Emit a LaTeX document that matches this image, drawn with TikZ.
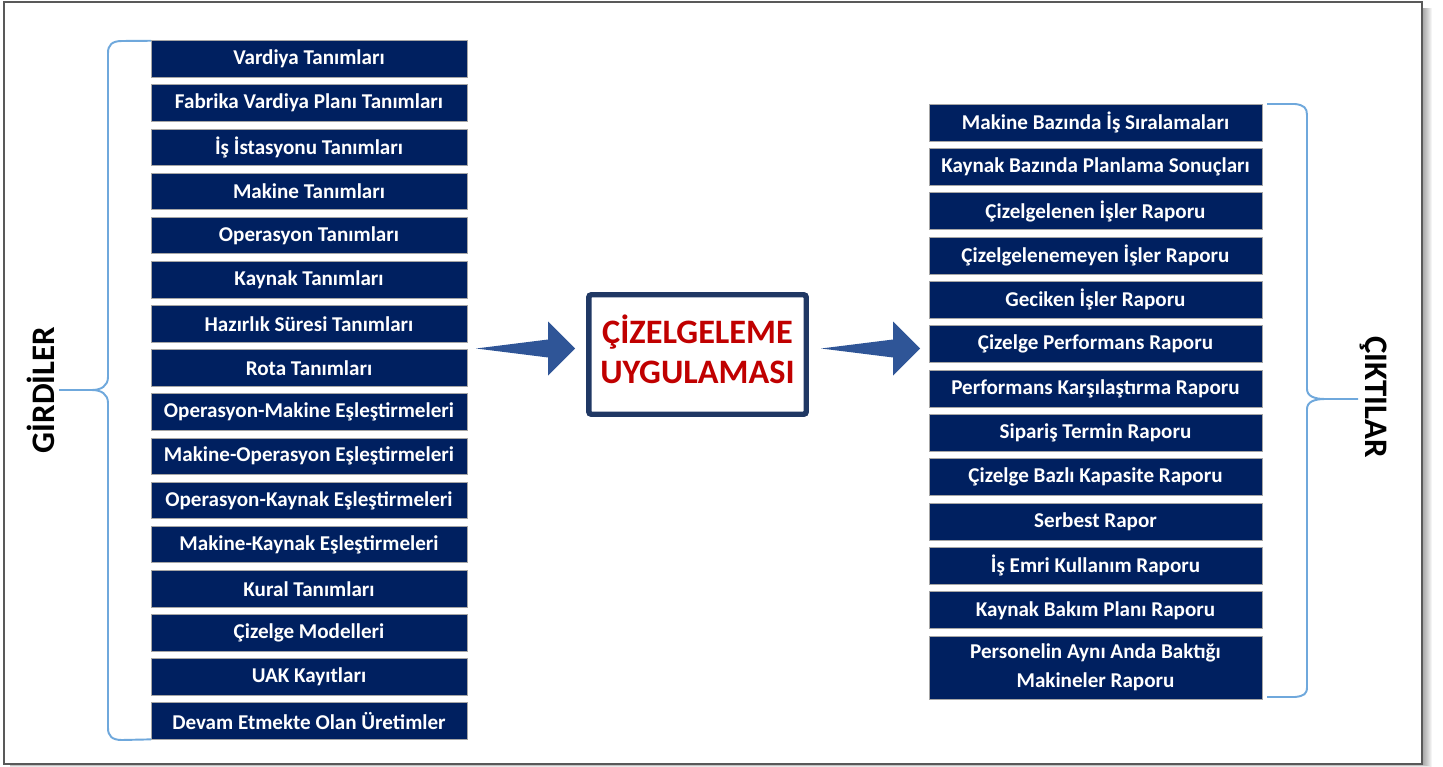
\documentclass[tikz,border=0pt]{standalone}
\usepackage{fontspec}
\setmainfont{Carlito}
\usetikzlibrary{positioning,calc,shadows}

\definecolor{boxnavy}{HTML}{002060}
\definecolor{boxedge}{HTML}{A6A6A6}
\definecolor{appnavy}{HTML}{203864}
\definecolor{appred}{HTML}{C00000}
\definecolor{arrowblue}{HTML}{2F5597}
\definecolor{bracecol}{HTML}{6FA8DC}
\definecolor{framegray}{HTML}{595959}

\tikzset{
  inbox/.style={draw=boxedge, fill=boxnavy, text=white, line width=0.5pt,
    font=\fontsize{12}{16.4}\selectfont\bfseries, align=center,
    minimum width=6.32cm, minimum height=0.73cm, inner sep=0pt, outer sep=0pt},
  outbox/.style={inbox, minimum width=6.66cm, minimum height=0.74cm},
  appbox/.style={draw=appnavy, fill=white, line width=3.1pt, rounded corners=1.5pt,
    minimum width=4.35cm, minimum height=2.39cm, align=center, text=appred,
    font=\fontsize{19.5}{22.7}\selectfont\bfseries, text depth=5.6pt,
    drop shadow={opacity=.3, shadow xshift=1.2pt, shadow yshift=-1.2pt}},
  bracket/.style={draw=bracecol, line width=1.1pt},
  sidelabel/.style={font=\fontsize{18.7}{22}\selectfont\bfseries},
  blockarrow/.pic={\fill[arrowblue] (0,0) -- (-27,-27) -- (-27,-9) -- (-99,0)
    -- (-27,9) -- (-27,27) -- cycle;}
}

\begin{document}
\begin{tikzpicture}[x=0.02cm, y=-0.02cm]
    \useasboundingbox (0,0) rectangle (1443,767);

    % Frame with shadow
    \foreach \s in {1,...,10}
        \fill[black, opacity=.045] (10,8) rectangle (1422+\s,764+0.3*\s);
    \draw[framegray, line width=1.1pt, fill=white] (4,2) rectangle (1422,764);

    % Inputs
    \begin{scope}[node distance=1.53mm]
        \node[inbox] (in1) at (309,59) {Vardiya Tanımları};
        \node[inbox, below=of in1] (in2) {Fabrika Vardiya Planı Tanımları};
        \node[inbox, below=of in2] (in3) {İş İstasyonu Tanımları};
        \node[inbox, below=of in3] (in4) {Makine Tanımları};
        \node[inbox, below=of in4] (in5) {Operasyon Tanımları};
        \node[inbox, below=of in5] (in6) {Kaynak Tanımları};
        \node[inbox, below=of in6] (in7) {Hazırlık Süresi Tanımları};
        \node[inbox, below=of in7] (in8) {Rota Tanımları};
        \node[inbox, below=of in8] (in9) {Operasyon-Makine Eşleştirmeleri};
        \node[inbox, below=of in9] (in10) {Makine-Operasyon Eşleştirmeleri};
        \node[inbox, below=of in10] (in11) {Operasyon-Kaynak Eşleştirmeleri};
        \node[inbox, below=of in11] (in12) {Makine-Kaynak Eşleştirmeleri};
        \node[inbox, below=of in12] (in13) {Kural Tanımları};
        \node[inbox, below=of in13] (in14) {Çizelge Modelleri};
        \node[inbox, below=of in14] (in15) {UAK Kayıtları};
        \node[inbox, below=of in15] (in16) {Devam Etmekte Olan Üretimler};
    \end{scope}

    % Outputs
    \begin{scope}[node distance=1.47mm]
        \node[outbox] (out1) at (1095.5,122.5) {Makine Bazında İş Sıralamaları};
        \node[outbox, below=of out1] (out2) {Kaynak Bazında Planlama Sonuçları};
        \node[outbox, below=of out2] (out3) {Çizelgelenen İşler Raporu};
        \node[outbox, below=of out3] (out4) {Çizelgelenemeyen İşler Raporu};
        \node[outbox, below=of out4] (out5) {Geciken İşler Raporu};
        \node[outbox, below=of out5] (out6) {Çizelge Performans Raporu};
        \node[outbox, below=of out6] (out7) {Performans Karşılaştırma Raporu};
        \node[outbox, below=of out7] (out8) {Sipariş Termin Raporu};
        \node[outbox, below=of out8] (out9) {Çizelge Bazlı Kapasite Raporu};
        \node[outbox, below=of out9] (out10) {Serbest Rapor};
        \node[outbox, below=of out10] (out11) {İş Emri Kullanım Raporu};
        \node[outbox, below=of out11] (out12) {Kaynak Bakım Planı Raporu};
        \node[outbox, below=of out12, minimum height=1.26cm] (out13) {Personelin Aynı Anda Baktığı\\Makineler Raporu};
    \end{scope}

    % Application
    \node[appbox] (app) at (697.5,354.5) {ÇİZELGELEME\\UYGULAMASI};

    % Side labels
    \coordinate (gtip) at (59,390);
    \coordinate (ctip) at (1358,399);
    \node[sidelabel, rotate=90] (girdi) at (41,390) {GİRDİLER};
    \node[sidelabel, rotate=-90] (cikti) at (1373,397) {ÇIKTILAR};

    % Braces
    \draw[bracket] (in1.north west) -- (122,41) .. controls (112,41) and (108,45) .. (108,53)
        -- (108,377) .. controls (108,386) and (101,390) .. (92,390) -- (gtip)
        -- (92,390) .. controls (101,390) and (108,394) .. (108,403)
        -- (108,728) .. controls (108,736) and (112,740) .. (122,740) -- (in16.south west);
    \draw[bracket] (1267,104) -- (1295,104) .. controls (1304,105) and (1307,108) .. (1307,115)
        -- (1307,389) .. controls (1307,396) and (1314,399) .. (1325,399) -- (ctip)
        -- (1325,399) .. controls (1314,399) and (1307,402) .. (1307,409)
        -- (1307,687) .. controls (1307,694) and (1304,696) .. (1295,697) -- (1267,697);

    % Arrows
    \path (out1.west |- app.west) coordinate (rtip);
    \pic at ($(app.west)+(-11,-6)$) {blockarrow};
    \pic at ($(rtip)+(-9,-6)$) {blockarrow};

\end{tikzpicture}
\end{document}
